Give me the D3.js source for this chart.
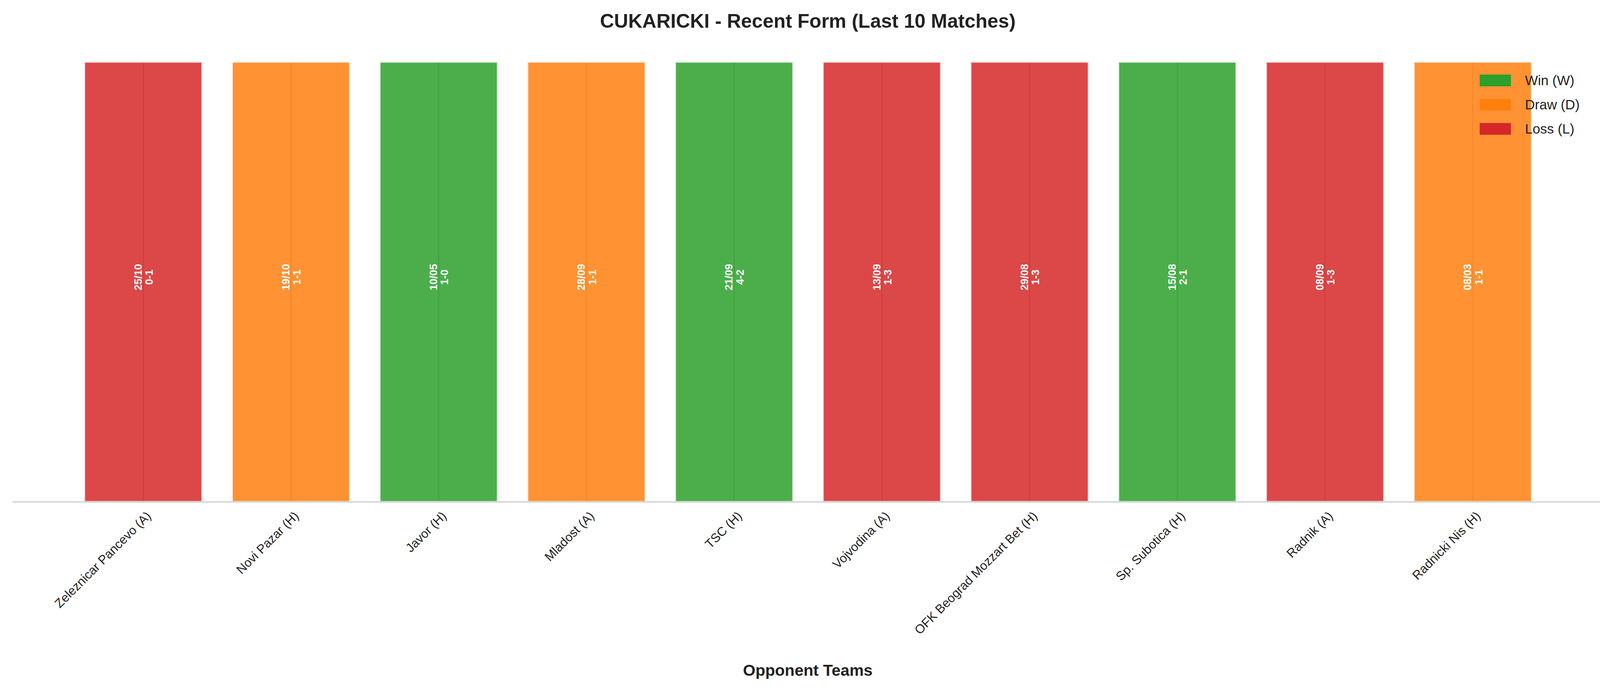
<!DOCTYPE html>
<html><head><meta charset="utf-8">
<script src="https://cdn.jsdelivr.net/npm/d3@7"></script>
<style>body{margin:0;background:#fff}</style></head>
<body><svg id="c" width="4136" height="1769"></svg>
<script>
const opponents=["Zeleznicar Pancevo (A)","Novi Pazar (H)","Javor (H)","Mladost (A)","TSC (H)","Vojvodina (A)","OFK Beograd Mozzart Bet (H)","Sp. Subotica (H)","Radnik (A)","Radnicki Nis (H)"];
const dates=["25/10","19/10","10/05","28/09","21/09","13/09","29/08","15/08","08/09","08/03"];
const scores=["0-1","1-1","1-0","1-1","4-2","1-3","1-3","2-1","1-3","1-1"];
const results=["L","D","W","D","W","L","L","W","L","D"];
const values=[1,1,1,1,1,1,1,1,1,1];
const legendLabels=[["W","Win (W)"],["D","Draw (D)"],["L","Loss (L)"]];
const colors={W:"#2ca02c",D:"#ff7f0e",L:"#d62728"};
const font="Liberation Sans, Arial, sans-serif";
const svg=d3.select("#c");
const x=d3.scaleLinear().domain([-0.885,9.885]).range([32,4105]);
const y=d3.scaleLinear().domain([0,1]).range([1285,158]);
const idx=d3.range(opponents.length);
// grid
svg.append("g").selectAll("line").data(idx).join("line")
 .attr("x1",i=>x(i)).attr("x2",i=>x(i)).attr("y1",y(1)).attr("y2",y(0))
 .attr("stroke","#b8b8b8").attr("stroke-width",3);
// bars
svg.append("g").selectAll("rect").data(idx).join("rect")
 .attr("x",i=>x(i-0.4)).attr("width",i=>x(0.4)-x(-0.4))
 .attr("y",i=>y(values[i])).attr("height",i=>y(0)-y(values[i]))
 .attr("fill",i=>colors[results[i]]).attr("fill-opacity",0.85)
 .attr("stroke","#fff").attr("stroke-opacity",0.8).attr("stroke-width",5);
// axis line
svg.append("line").attr("x1",32).attr("x2",4105).attr("y1",y(0)).attr("y2",y(0)).attr("stroke","#cccccc").attr("stroke-width",3);
// bar labels
const bl=svg.append("g").selectAll("text").data(idx).join("text")
 .attr("transform",i=>`translate(${x(i)},${(y(0)+y(1))/2-12}) rotate(-90)`)
 .attr("text-anchor","middle").attr("font-family",font).attr("font-weight","bold")
 .attr("font-size",27).attr("fill","#fff");
bl.append("tspan").attr("x",0).attr("dy","-0.15em").text(i=>dates[i]);
bl.append("tspan").attr("x",0).attr("dy","1.05em").text(i=>scores[i]);
// tick labels
svg.append("g").selectAll("text").data(idx).join("text")
 .attr("transform",i=>`translate(${x(i)+6},${y(0)+22}) rotate(-45)`)
 .attr("text-anchor","end").attr("dy","0.7em")
 .attr("font-family",font).attr("font-size",32).attr("fill","#222")
 .text(i=>opponents[i]);
// title & axis label
svg.append("text").attr("x",2068).attr("y",71).attr("text-anchor","middle")
 .attr("font-family",font).attr("font-weight","bold").attr("font-size",50).attr("fill","#222")
 .text("CUKARICKI - Recent Form (Last 10 Matches)");
svg.append("text").attr("x",2068).attr("y",1730).attr("text-anchor","middle")
 .attr("font-family",font).attr("font-weight","bold").attr("font-size",41).attr("fill","#222")
 .text("Opponent Teams");
// legend
const lg=svg.append("g").selectAll("g").data(legendLabels).join("g")
 .attr("transform",(d,i)=>`translate(3788,${206+i*62})`);
lg.append("rect").attr("x",0).attr("y",-15).attr("width",80).attr("height",30).attr("fill",d=>colors[d[0]]);
lg.append("text").attr("x",116).attr("y",12).attr("font-family",font).attr("font-size",35).attr("fill","#222").text(d=>d[1]);
</script></body></html>
